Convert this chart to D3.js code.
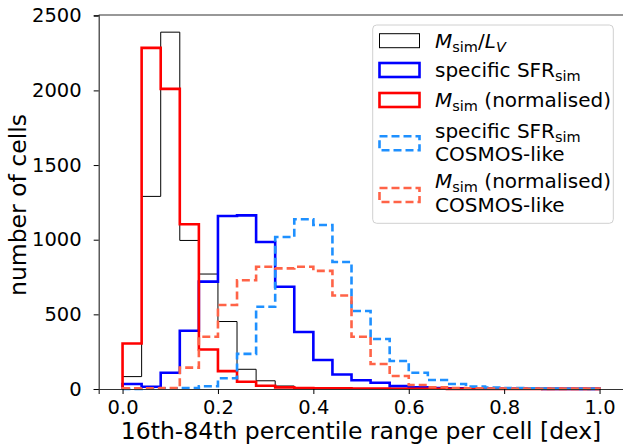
<!DOCTYPE html>
<html>
<head>
<meta charset="utf-8">
<script src="https://cdn.jsdelivr.net/npm/d3@7"></script>
<style>
  body { margin: 0; background: #fff; }
  svg { display: block; font-family: "DejaVu Sans", sans-serif; }
</style>
</head>
<body>
<svg id="chart" width="623" height="444"></svg>
<script>
  // bin edges: 0.00, 0.04, ... 1.00 (25 bins)
  const binEdges = d3.range(26).map(i => +(i * 0.04).toFixed(2));

  // counts per bin
  const massToLight = [83, 1290, 2390, 995, 770, 452, 132, 55, 20, 10, 6, 4, 3, 2, 2, 1, 1, 1, 1, 0, 0, 0, 0, 0, 0];
  const ssfrSim = [33, 15, 109, 390, 719, 1159, 1163, 985, 685, 382, 194, 97, 59, 42, 19, 11, 7, 5, 4, 3, 2, 2, 1, 1, 1];
  const massSim = [305, 2285, 2010, 1103, 265, 120, 49, 22, 11, 7, 5, 4, 3, 3, 2, 2, 2, 1, 1, 1, 1, 1, 1, 1, 1];
  const ssfrCosmos = [1, 2, 4, 6, 18, 72, 235, 551, 1018, 1137, 1098, 851, 522, 335, 188, 109, 60, 33, 16, 10, 7, 5, 3, 2, 1];
  const massCosmos = [4, 5, 6, 143, 350, 563, 728, 819, 808, 819, 791, 626, 350, 167, 87, 27, 12, 7, 5, 3, 2, 2, 1, 1, 1];

  const xTicks = [0, 0.2, 0.4, 0.6, 0.8, 1.0];
  const yTicks = [0, 500, 1000, 1500, 2000, 2500];

  const series = [
    { values: massToLight, color: "#000", width: 1, dash: null },
    { values: ssfrSim, color: "#0000ff", width: 2.6, dash: null },
    { values: massSim, color: "#ff0000", width: 2.6, dash: null },
    { values: ssfrCosmos, color: "#1e90ff", width: 2.6, dash: "8,4" },
    { values: massCosmos, color: "#ff6347", width: 2.6, dash: "8,4" }
  ];

  const svg = d3.select("#chart");
  const x = d3.scaleLinear().domain([-0.05, 1.05]).range([98.7, 623.4]);
  const y = d3.scaleLinear().domain([0, 2505]).range([389, 15]);

  // step outline like matplotlib histtype='step'
  function stepPoints(vals) {
    const pts = [[binEdges[0], 0]];
    vals.forEach((v, i) => {
      pts.push([binEdges[i], v]);
      pts.push([binEdges[i + 1], v]);
    });
    pts.push([binEdges[binEdges.length - 1], 0]);
    return pts;
  }
  const line = d3.line().x(d => x(d[0])).y(d => y(d[1]));

  const plot = svg.append("g");
  series.forEach(s => {
    plot.append("path")
      .attr("d", line(stepPoints(s.values)))
      .attr("fill", "none")
      .attr("stroke", s.color)
      .attr("stroke-width", s.width)
      .attr("stroke-dasharray", s.dash)
      .attr("stroke-linejoin", "miter");
  });

  // axes
  const xAxis = svg.append("g")
    .attr("transform", "translate(0,389)")
    .call(d3.axisBottom(x).tickValues(xTicks).tickFormat(d3.format(".1f")).tickSizeOuter(0).tickSize(5).tickPadding(6));
  const yAxis = svg.append("g")
    .attr("transform", "translate(98.7,0)")
    .call(d3.axisLeft(y).tickValues(yTicks).tickFormat(d3.format("d")).tickSizeOuter(0).tickSize(5).tickPadding(12));
  [xAxis, yAxis].forEach(a => {
    a.selectAll("text").attr("font-size", 19.5).attr("fill", "#000").attr("font-family", "DejaVu Sans");
    a.selectAll("line").attr("stroke", "#000").attr("stroke-width", 1);
    a.select(".domain").attr("stroke", "#333").attr("stroke-width", 1.2);
  });
  // top spine
  svg.append("line").attr("x1", 98.7).attr("x2", 623).attr("y1", 15).attr("y2", 15)
    .attr("stroke", "#333").attr("stroke-width", 1.2);

  svg.append("text")
    .attr("x", x(0.5)).attr("y", 439)
    .attr("text-anchor", "middle").attr("font-size", 23.5)
    .text("16th-84th percentile range per cell [dex]");
  svg.append("text")
    .attr("transform", "translate(26,205) rotate(-90)")
    .attr("text-anchor", "middle").attr("font-size", 23.5)
    .text("number of cells");

  // legend
  const lg = svg.append("g");
  lg.append("rect")
    .attr("x", 372.7).attr("y", 25).attr("width", 240.6).attr("height", 198.3)
    .attr("rx", 4).attr("fill", "#fff").attr("fill-opacity", 0.8)
    .attr("stroke", "#d0d0d0").attr("stroke-width", 1);

  const legendItems = [
    { s: series[0], cy: 40.7, lines: [[["M", "i"], ["sim", "sub"], ["/", ""], ["L", "i"], ["V", "subi"]]], base: [48] },
    { s: series[1], cy: 70, lines: [[["specific SFR", ""], ["sim", "sub"]]], base: [77.3] },
    { s: series[2], cy: 100, lines: [[["M", "i"], ["sim", "sub"], [" (normalised)", ""]]], base: [107.3] },
    { s: series[3], cy: 143.3, lines: [[["specific SFR", ""], ["sim", "sub"]], [["COSMOS-like", ""]]], base: [138.3, 160.5] },
    { s: series[4], cy: 195, lines: [[["M", "i"], ["sim", "sub"], [" (normalised)", ""]], [["COSMOS-like", ""]]], base: [188.3, 211.5] }
  ];
  legendItems.forEach(it => {
    lg.append("rect")
      .attr("x", 379.5).attr("y", it.cy - 7).attr("width", 40).attr("height", 14)
      .attr("fill", "none").attr("stroke", it.s.color)
      .attr("stroke-width", it.s.width).attr("stroke-dasharray", it.s.dash);
    it.lines.forEach((parts, li) => {
      const t = lg.append("text").attr("x", 435).attr("y", it.base[li]).attr("font-size", 20);
      let shift = 0;
      parts.forEach(([txt, kind]) => {
        const ts = t.append("tspan").text(txt);
        if (kind === "i") ts.attr("font-style", "italic");
        if (kind === "sub" || kind === "subi") {
          ts.attr("font-size", 14.5).attr("dy", 3.5 - shift);
          shift = 3.5;
          if (kind === "subi") ts.attr("font-style", "italic");
        } else if (shift) {
          // back to the baseline after a subscript
          ts.attr("dy", -shift);
          shift = 0;
        }
      });
    });
  });
</script>
</body>
</html>
